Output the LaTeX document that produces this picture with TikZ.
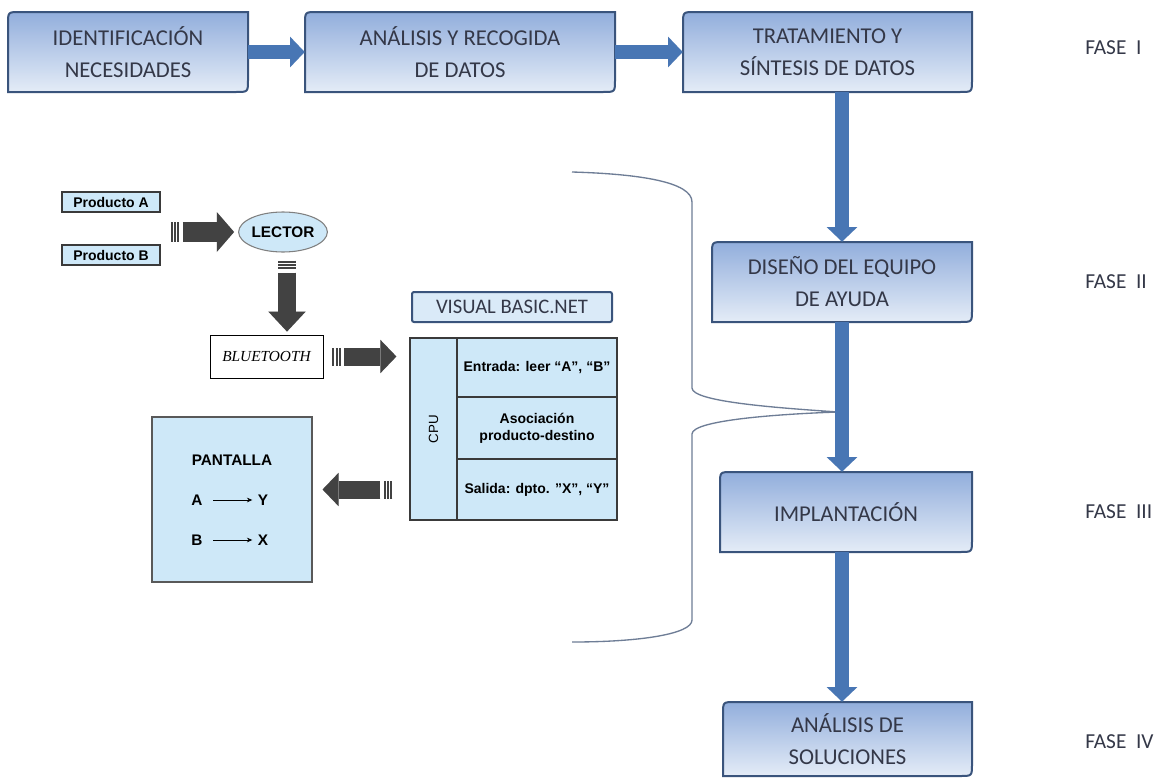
\documentclass[tikz,border=0pt]{standalone}
\usepackage{fontspec}
\setmainfont{Carlito}
\newfontfamily\lsans{Liberation Sans}
\newfontfamily\tnr{Liberation Serif}
\usetikzlibrary{arrows.meta,calc,shapes.geometric}

\definecolor{phTop}{RGB}{146,174,220}
\definecolor{phBot}{RGB}{228,236,247}
\definecolor{phLine}{RGB}{58,84,124}
\definecolor{phText}{RGB}{52,56,72}
\definecolor{flowBlue}{RGB}{72,118,180}
\definecolor{darkArrow}{RGB}{66,66,66}
\definecolor{paleBlue}{RGB}{206,232,248}
\definecolor{vbnFill}{RGB}{218,234,248}
\definecolor{braceCol}{RGB}{110,125,150}
\definecolor{cellLine}{RGB}{58,58,58}

% phase box: rounded top-left and bottom-right corners
% #1 name, #2 x1, #3 y1, #4 x2, #5 y2, #6 text
\newcommand\phasebox[6]{%
  \shade[phasefill] (#2,#5) -- (#2,#3+12) .. controls (#2,#3) .. (#2+12,#3)
     -- (#4,#3) -- (#4,#5-12) .. controls (#4,#5) .. (#4-12,#5) -- cycle;
  \node[phasetext, minimum width={(#4-#2)*0.75pt}, minimum height={(#5-#3)*0.75pt}]
     (#1) at ({(#2+#4)/2},{(#3+#5)/2}) {#6};
}

% striped block arrow: #1 tail, #2 tip, #3 shaft width, #4 head length, #5 head width
\newcommand\stripearrow[5]{%
  \begin{scope}[shift={(2,2)}]
    \draw[draw=black!18, line width=#3, -{Triangle[length=#4,width=#5,line width=0pt]}]
       ($(#1)!9pt!(#2)$) -- (#2);
  \end{scope}
  \draw[draw=darkArrow, line width=#3, -{Triangle[length=#4,width=#5,line width=0pt]}]
     ($(#1)!9pt!(#2)$) -- (#2);
  \draw[draw=darkArrow, line width=#3, dash pattern=on 1.5pt off 1pt]
     (#1) -- ($(#1)!7.5pt!(#2)$);
}

\tikzset{
  phasefill/.style={top color=phTop, bottom color=phBot, draw=phLine, line width=1.5pt},
  phasetext/.style={inner sep=0pt, text=phText, align=center, font=\fontsize{17}{24}\selectfont},
  fase/.style={anchor=west, inner sep=0pt, text=phText, font=\fontsize{16}{19}\selectfont},
  flow/.style={draw=flowBlue, line width=10.5pt, -{Triangle[length=11pt,width=23pt,line width=0pt]}},
  prod/.style={draw=cellLine, line width=1.2pt, fill=paleBlue, inner sep=0pt,
    minimum width=73.5pt, minimum height=15pt, font=\lsans\bfseries\fontsize{10.5}{12}\selectfont},
  cell/.style={draw=cellLine, line width=0.9pt, fill=paleBlue, inner sep=0pt, align=center,
    font=\lsans\bfseries\fontsize{10.5}{13}\selectfont},
  scr/.style={inner sep=1pt, font=\lsans\bfseries\fontsize{11.5}{13}\selectfont},
  brace/.style={draw=braceCol, line width=1pt},
}

\begin{document}
\begin{tikzpicture}[x=0.75pt,y=-0.75pt]
\useasboundingbox (0,0) rectangle (1167,782);
\fill[white] (0,0) rectangle (1167,782);

% ---- brace grouping the detailed scheme ----
\draw[brace] (572,172) .. controls (640,174) and (692,182) .. (692,202)
  -- (692,388) .. controls (692,402) and (780,408) .. (838,412)
  .. controls (780,414) and (692,420) .. (692,434)
  -- (692,620) .. controls (692,634) and (640,642) .. (572,642);

% ---- phase boxes ----
\phasebox{ident}{8}{12}{248}{92}{IDENTIFICACIÓN\\NECESIDADES}
\phasebox{analisis}{305}{12}{615}{92}{ANÁLISIS Y RECOGIDA\\DE DATOS}
\phasebox{trat}{683}{12}{972}{92}{TRATAMIENTO Y\\SÍNTESIS DE DATOS}
\phasebox{diseno}{712}{242}{972}{322}{DISEÑO DEL EQUIPO\\DE AYUDA}
\phasebox{impl}{720}{472}{972}{552}{IMPLANTACIÓN}
\phasebox{solu}{723}{702}{972}{776}{ANÁLISIS DE\\SOLUCIONES}

% ---- phase labels ----
\node[fase] (f1) at (1085,48) {FASE\ \ I};
\node[fase] (f2) at (1085,282) {FASE\ \ II};
\node[fase] (f3) at (1085,512) {FASE\ \ III};
\node[fase] (f4) at (1085,742) {FASE\ \ IV};

% ---- flow arrows ----
\draw[flow] (ident.east) -- (analisis.west);
\draw[flow] (analisis.east) -- (trat.west);
\draw[flow] (trat.south -| diseno.north) -- (diseno.north);
\draw[flow] (diseno.south) -- (diseno.south |- impl.north);
\draw[flow] (impl.south -| diseno.south) -- (diseno.south |- solu.north);

% ---- detailed scheme: reader ----
\node[prod] (pa) at (111,202) {Producto A};
\node[prod] (pb) at (111,255) {Producto B};
\node[ellipse, draw=gray, line width=0.8pt, fill=paleBlue, inner sep=0pt,
      minimum width=54pt, minimum height=30pt,
      font=\lsans\bfseries\fontsize{11.5}{13}\selectfont] (lector) at (283,232) {LECTOR};
\node[draw=black, line width=0.6pt, fill=white, inner sep=0pt,
      minimum width=84.75pt, minimum height=32.25pt,
      font=\tnr\itshape\fontsize{11.5}{13}\selectfont] (bt) at (266.5,356.5) {BLUETOOTH};

% ---- software block ----
\node[draw=phLine, line width=1.5pt, fill=vbnFill, rounded corners=1.5pt, inner sep=0pt,
      minimum width=150pt, minimum height=22.5pt, text=phText,
      font=\fontsize{15.5}{17}\selectfont] (vbn) at (512,307) {VISUAL BASIC.NET};
\node[cell, minimum width=35.25pt, minimum height=136.5pt] (cpucell) at (433.5,429) {};
\node[rotate=90, inner sep=0pt, font=\lsans\fontsize{10}{11}\selectfont] (cpulbl) at (cpucell) {CPU};
\node[cell, minimum width=120pt, minimum height=44.25pt] (r1) at (537,367.5) {Entrada: leer “A”, “B”};
\node[cell, minimum width=120pt, minimum height=46.5pt] (r2) at (537,428) {Asociación\\producto-destino};
\node[cell, minimum width=120pt, minimum height=45.75pt] (r3) at (537,489.5) {Salida: dpto. ”X”, “Y”};

% ---- screen ----
\node[draw=gray!70!black, line width=0.8pt, fill=paleBlue, inner sep=0pt,
      minimum width=120pt, minimum height=123.75pt] (pant) at (232,499.5) {};
\node[scr] (ptitle) at (232,460) {PANTALLA};
\node[scr] (pA) at (197,500) {A};
\node[scr] (pY) at (263,500) {Y};
\node[scr] (pB) at (197,540) {B};
\node[scr] (pX) at (263,540) {X};
\draw[line width=0.6pt, -{Stealth[length=4pt,width=3.5pt]}, shorten <=7pt, shorten >=3pt] (pA) -- (pY);
\draw[line width=0.6pt, -{Stealth[length=4pt,width=3.5pt]}, shorten <=7pt, shorten >=3pt] (pB) -- (pX);

% ---- block arrows ----
\coordinate (a1t) at ($(pa.east |- lector.west)+(10,0)$);
\coordinate (a1h) at ($(lector.west)+(-4,0)$);
\stripearrow{a1t}{a1h}{15pt}{13pt}{30pt}

\coordinate (a2t) at ($(lector.south)+(4,8)$);
\coordinate (a2h) at ($(bt.north -| a2t)+(0,-3)$);
\stripearrow{a2t}{a2h}{13.5pt}{15pt}{28pt}

\coordinate (a3t) at ($(bt.east)+(9,0)$);
\coordinate (a3h) at ($(cpucell.west |- bt.east)+(-13,0)$);
\stripearrow{a3t}{a3h}{13.5pt}{12pt}{25pt}

\coordinate (a4t) at ($(cpucell.west |- r3.west)+(-17,0)$);
\coordinate (a4h) at ($(pant.east |- r3.west)+(10,0)$);
\stripearrow{a4t}{a4h}{13.5pt}{12pt}{25pt}
\end{tikzpicture}
\end{document}
